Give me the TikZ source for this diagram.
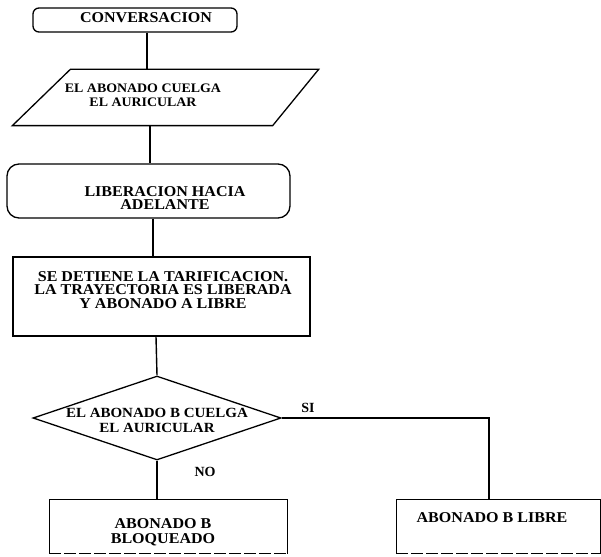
\documentclass[tikz,border=0pt]{standalone}
\usepackage{fontspec}
\setmainfont{Liberation Serif}
\newfontfamily\widebold[FakeStretch=1.07]{Liberation Serif Bold}
\usetikzlibrary{shapes.geometric,calc}
\begin{document}
\begin{tikzpicture}[x=1pt,y=-1pt,line width=1.3pt,
  every node/.style={inner sep=0pt},
  shapebox/.style={draw,rectangle,inner sep=0pt},
  txt/.style={align=center,font=\widebold\fontsize{15}{#1}\selectfont},
  txt/.default=14,
  smalltxt/.style={align=center,font=\bfseries\fontsize{14}{14}\selectfont},
  conn/.style={draw,line width=1.4pt}]
\useasboundingbox (0,0) rectangle (601,556);

% shapes
\node[shapebox,rounded corners=6pt,minimum width=204pt,minimum height=24pt] (conv) at (135,20) {};
\node[minimum width=305pt,minimum height=55pt] (par) at (165.5,97.5) {};
\draw ($(par.north west)+(58,0)$) -- (par.north east) -- ($(par.south east)+(-46,0)$) -- (par.south west) -- cycle;
\node[shapebox,rounded corners=12pt,minimum width=283pt,minimum height=54pt] (lib) at (148.5,191) {};
\node[shapebox,minimum width=297pt,minimum height=79pt] (box) at (161.5,296.5) {};
\node[draw,diamond,inner sep=0pt,minimum width=248pt,minimum height=84pt] (dec) at (157,418) {};
\node[minimum width=237pt,minimum height=53pt] (bl) at (168.5,526.5) {};
\node[minimum width=203pt,minimum height=53pt] (br) at (498.5,526.5) {};
\foreach \b in {bl,br}{
  \draw (\b.south west) -- (\b.north west) -- (\b.north east) -- (\b.south east);
  \draw[dash pattern=on 12pt off 3pt] (\b.south west) -- (\b.south east);
}

% texts
\node[txt] (convt) at (146,18) {CONVERSACION};
\node[align=center,font=\widebold\fontsize{13}{14}\selectfont] (part) at (143,95) {EL ABONADO CUELGA\\EL AURICULAR};
\node[txt=13.8] (libt) at (165,198) {LIBERACION HACIA\\ADELANTE};
\node[txt=13.8] (boxt) at (163,290) {SE DETIENE LA TARIFICACION.\\LA TRAYECTORIA ES LIBERADA\\Y ABONADO A LIBRE};
\node[align=center,font=\widebold\fontsize{14}{15}\selectfont] (dect) at (157,420) {EL ABONADO B CUELGA\\EL AURICULAR};
\node[txt=15] (blt) at (163,532.5) {ABONADO B\\BLOQUEADO};
\node[txt] (brt) at (492,518) {ABONADO B LIBRE};
\node[smalltxt] (si) at (308,408) {SI};
\node[smalltxt] (no) at (205,472) {NO};

% connectors
\draw[conn] ([xshift=12pt]conv.south) -- ([xshift=12pt]conv.south |- par.north);
\draw[conn] ([xshift=-15.5pt]par.south) -- ([xshift=-15.5pt]par.south |- lib.north);
\draw[conn] ([xshift=4.5pt]lib.south) -- ([xshift=4.5pt]lib.south |- box.north);
\draw[conn] ([xshift=-5.5pt]box.south) -- (dec.north);
\draw[conn] (dec.south) -- (dec.south |- bl.north);
\draw[conn] (dec.east) -| ([xshift=-9.5pt]br.north);
\end{tikzpicture}
\end{document}
